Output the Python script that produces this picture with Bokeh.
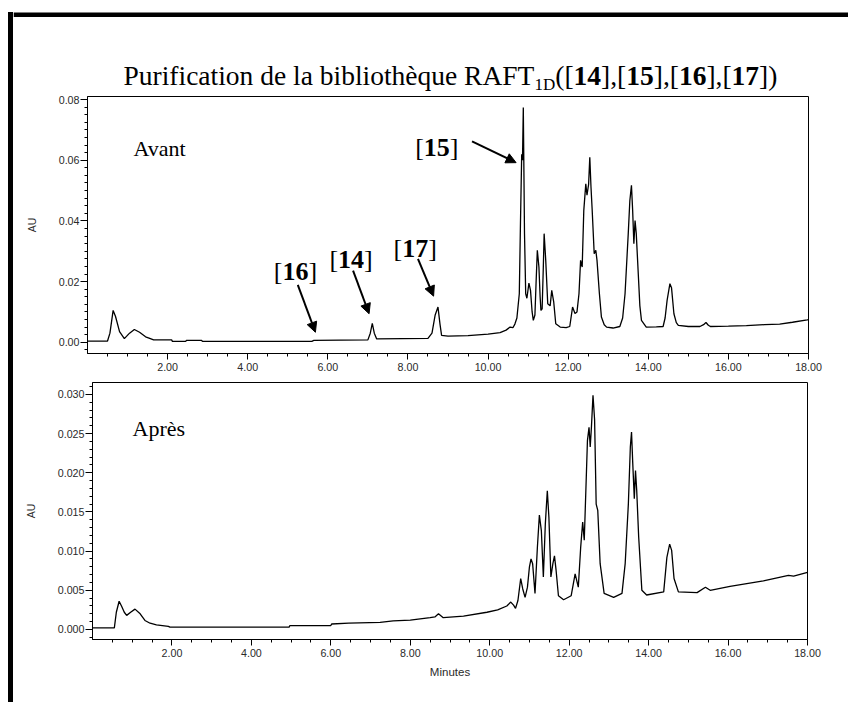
from bokeh.plotting import figure
from bokeh.layouts import column, row
from bokeh.models import (Range1d, FixedTicker, Label, Arrow, NormalHead, Div,
                          NumeralTickFormatter)
from bokeh.embed import file_html
from bokeh.resources import INLINE

# ---------------- data ----------------
avant_t = [0.00, 0.50, 0.56, 0.64, 0.70, 0.80, 0.92, 1.05, 1.17, 1.30, 1.45, 1.57, 1.65,
           2.10, 2.12, 2.45, 2.47, 2.85, 2.87, 5.60, 5.65, 7.00, 7.06, 7.11, 7.16, 7.22,
           8.50, 8.60, 8.68, 8.75, 8.80, 8.84, 9.00, 9.50, 10.00, 10.30, 10.45, 10.55,
           10.62, 10.67, 10.72, 10.78, 10.81, 10.84, 10.86, 10.88, 10.91, 10.94, 10.97,
           11.02, 11.06, 11.10, 11.13, 11.17, 11.20, 11.23, 11.27, 11.30, 11.32, 11.35,
           11.38, 11.40, 11.44, 11.49, 11.55, 11.59, 11.64, 11.69, 11.80, 11.95, 12.04,
           12.11, 12.17, 12.22, 12.27, 12.31, 12.35, 12.39, 12.44, 12.47, 12.51, 12.54,
           12.57, 12.60, 12.65, 12.69, 12.72, 12.78, 12.83, 12.90, 12.96, 13.12, 13.29,
           13.36, 13.42, 13.50, 13.54, 13.58, 13.61, 13.64, 13.67, 13.70, 13.75, 13.79,
           13.83, 13.95, 14.20, 14.37, 14.42, 14.47, 14.54, 14.58, 14.64, 14.70, 14.75,
           15.00, 15.29, 15.38, 15.44, 15.50, 15.55, 16.00, 16.45, 16.90, 17.28, 17.60,
           17.97, 18.00]
avant_au = [0.0004, 0.0004, 0.0030, 0.0105, 0.0085, 0.0035, 0.0012, 0.0030, 0.0042, 0.0033,
            0.0018, 0.0012, 0.0008, 0.0008, 0.0003, 0.0003, 0.0006, 0.0006, 0.0003, 0.0003,
            0.0006, 0.0008, 0.0030, 0.0062, 0.0030, 0.0011, 0.0013, 0.0030, 0.0090, 0.0116,
            0.0060, 0.0023, 0.0020, 0.0022, 0.0027, 0.0032, 0.0040, 0.0050, 0.0048, 0.0060,
            0.0080, 0.0160, 0.0400, 0.0620, 0.0600, 0.0774, 0.0358, 0.0160, 0.0145, 0.0195,
            0.0171, 0.0100, 0.0072, 0.0090, 0.0200, 0.0303, 0.0248, 0.0150, 0.0105, 0.0110,
            0.0250, 0.0358, 0.0270, 0.0127, 0.0120, 0.0171, 0.0132, 0.0061, 0.0050, 0.0048,
            0.0052, 0.0116, 0.0095, 0.0100, 0.0160, 0.0270, 0.0248, 0.0434, 0.0522, 0.0485,
            0.0520, 0.0610, 0.0511, 0.0434, 0.0292, 0.0303, 0.0270, 0.0160, 0.0083, 0.0058,
            0.0050, 0.0047, 0.0052, 0.0080, 0.0160, 0.0358, 0.0467, 0.0517, 0.0434, 0.0325,
            0.0401, 0.0358, 0.0226, 0.0120, 0.0072, 0.0050, 0.0051, 0.0052, 0.0080, 0.0138,
            0.0193, 0.0180, 0.0094, 0.0065, 0.0056, 0.0052, 0.0052, 0.0058, 0.0065, 0.0056,
            0.0052, 0.0053, 0.0055, 0.0058, 0.0060, 0.0066, 0.0074, 0.0075]

apres_t = [0.00, 0.55, 0.60, 0.67, 0.73, 0.80, 0.86, 0.96, 1.07, 1.20, 1.32, 1.45, 1.61,
           1.91, 1.95, 4.95, 4.97, 6.00, 6.02, 6.45, 7.24, 7.57, 8.00, 8.50, 8.62, 8.71,
           8.83, 9.34, 9.93, 10.20, 10.43, 10.53, 10.60, 10.65, 10.71, 10.78, 10.83, 10.89,
           10.95, 11.00, 11.04, 11.08, 11.14, 11.20, 11.25, 11.30, 11.35, 11.40, 11.45,
           11.49, 11.54, 11.59, 11.63, 11.67, 11.73, 11.86, 12.05, 12.15, 12.23, 12.29,
           12.34, 12.38, 12.42, 12.46, 12.50, 12.53, 12.56, 12.60, 12.64, 12.68, 12.72,
           12.78, 12.88, 13.12, 13.33, 13.41, 13.49, 13.54, 13.57, 13.60, 13.64, 13.67,
           13.70, 13.75, 13.83, 13.95, 14.38, 14.46, 14.53, 14.58, 14.64, 14.75, 15.22,
           15.43, 15.55, 16.05, 16.89, 17.52, 17.65, 18.00]
apres_au = [0.0002, 0.0002, 0.0022, 0.0036, 0.0030, 0.0022, 0.0018, 0.0022, 0.0026, 0.0020,
            0.00115, 0.0008, 0.0006, 0.0004, 0.0003, 0.0003, 0.0005, 0.0005, 0.0007, 0.0008,
            0.0009, 0.0011, 0.0012, 0.0015, 0.0016, 0.0020, 0.0015, 0.0017, 0.0022, 0.0025,
            0.0030, 0.0035, 0.0031, 0.0027, 0.0037, 0.0065, 0.0052, 0.0041, 0.0054, 0.0080,
            0.0090, 0.0084, 0.0046, 0.0105, 0.0146, 0.0126, 0.0067, 0.0135, 0.0177, 0.0143,
            0.0067, 0.0084, 0.0094, 0.0076, 0.0043, 0.0038, 0.0043, 0.0071, 0.0054, 0.0105,
            0.0137, 0.0114, 0.0177, 0.0241, 0.0258, 0.0233, 0.0258, 0.0299, 0.0268, 0.0160,
            0.0152, 0.0084, 0.0046, 0.0041, 0.0046, 0.0084, 0.0160, 0.0233, 0.0252, 0.0213,
            0.0167, 0.0203, 0.0178, 0.0118, 0.0050, 0.0044, 0.0048, 0.0092, 0.0109, 0.0101,
            0.0065, 0.0048, 0.0047, 0.0054, 0.0050, 0.0055, 0.0062, 0.0069, 0.0068, 0.0073]

x_ticks = [2, 4, 6, 8, 10, 12, 14, 16, 18]
x_minor = [i * 0.5 for i in range(1, 37)]
top_y_ticks = [0.0, 0.02, 0.04, 0.06, 0.08]
top_y_minor = [i * 0.0025 for i in range(-1, 33)]
bot_y_ticks = [0.0, 0.005, 0.010, 0.015, 0.020, 0.025, 0.030]
bot_y_minor = [i * 0.001 for i in range(-1, 32)]

title_parts = [("Purification de la bibliothèque RAFT", "normal", "main"),
               ("1D", "normal", "sub"),
               ("([", "normal", "main"), ("14", "bold", "main"),
               ("],[", "normal", "main"), ("15", "bold", "main"),
               ("],[", "normal", "main"), ("16", "bold", "main"),
               ("],[", "normal", "main"), ("17", "bold", "main"),
               ("])", "normal", "main")]

# ---------------- styling helpers ----------------
SERIF = "Liberation Serif"
SANS = "Liberation Sans"
W = {'P': 556, 'u': 500, 'r': 333, 'i': 278, 'f': 333, 'c': 444, 'a': 444, 't': 278,
     'o': 500, 'n': 500, ' ': 250, 'd': 500, 'e': 444, 'l': 278, 'b': 500, 'h': 500,
     'è': 444, 'q': 500, 'R': 667, 'A': 722, 'F': 556, 'T': 611, '(': 333, ')': 333,
     '[': 333, ']': 333, ',': 250, 'D': 722}


def tw(s, size):
    return sum(W.get(c, 500) for c in s) / 1000.0 * size


def style_axes(p, yfmt):
    p.grid.visible = False
    p.outline_line_color = "black"
    p.outline_line_width = 1
    p.background_fill_color = "white"
    p.border_fill_color = "white"
    for ax in (p.xaxis[0], p.yaxis[0]):
        ax.axis_line_color = "black"
        ax.major_tick_line_color = "black"
        ax.minor_tick_line_color = "black"
        ax.major_tick_in = 0
        ax.minor_tick_in = 0
        ax.major_label_text_font = SANS
        ax.major_label_text_font_size = "10.7px"
        ax.major_label_text_color = "#2a2a2a"
        ax.axis_label_text_font = SANS
        ax.axis_label_text_font_style = "normal"
        ax.axis_label_text_color = "#2a2a2a"
    p.xaxis.ticker = FixedTicker(ticks=x_ticks, minor_ticks=x_minor)
    p.xaxis.formatter = NumeralTickFormatter(format="0.00")
    p.xaxis.major_tick_out = 6
    p.xaxis.minor_tick_out = 3
    p.xaxis.major_label_standoff = 3
    p.yaxis.major_tick_out = 7
    p.yaxis.minor_tick_out = 3
    p.yaxis.major_label_standoff = 1
    p.yaxis.formatter = NumeralTickFormatter(format=yfmt)
    p.yaxis.axis_label = "AU"
    p.yaxis.axis_label_text_font_size = "10.5px"
    p.yaxis.axis_label_standoff = 18


def txt_label(p, x, y, text, size, style="normal", dx=0.0):
    p.add_layout(Label(x=x, y=y, x_offset=dx, text=text,
                       text_font=SERIF, text_font_style=style,
                       text_font_size=f"{size}px", text_color="black",
                       text_baseline="alphabetic", text_align="left"))


def bracket_label(p, x, y, num, size):
    s = float(size)
    txt_label(p, x, y, "[", s)
    txt_label(p, x, y, num, s, "bold", 0.333 * s)
    txt_label(p, x, y, "]", s, "normal", 1.333 * s)


def arrow(p, x0, y0, x1, y1):
    p.add_layout(Arrow(end=NormalHead(size=10, fill_color="black", line_color="black"),
                       x_start=x0, y_start=y0, x_end=x1, y_end=y1,
                       line_width=2, line_color="black"))


# ---------------- title strip (pixel coordinates) ----------------
TW, TH = 835, 85
pT = figure(width=TW, height=TH, x_range=Range1d(0, TW), y_range=Range1d(0, TH),
            output_backend="svg", toolbar_location=None,
            x_axis_location=None, y_axis_location=None, frame_align=False,
            min_border_left=0, min_border_right=0, min_border_top=0, min_border_bottom=0)
pT.grid.visible = False
pT.outline_line_color = None
pT.background_fill_color = "white"
pT.border_fill_color = "white"
# thick black rule at the top of the page
pT.quad(left=[0], right=[TW], bottom=[TH - 8.5], top=[TH - 4], fill_color="black",
        line_color=None)

MAIN, SUB = 27.5, 17.0
xo = 110.0
for txt, st, kind in title_parts:
    size = MAIN if kind == "main" else SUB
    txt_label(pT, xo, TH - 67 if kind == "main" else TH - 76, txt, size, st)
    xo += tw(txt, size)

# ---------------- top figure (Avant) ----------------
pA = figure(width=827, height=285, x_range=Range1d(0, 18), y_range=Range1d(-0.0037, 0.081),
            output_backend="svg", toolbar_location=None, frame_align=False,
            min_border_left=74, min_border_right=32, min_border_top=3, min_border_bottom=25)
style_axes(pA, "0.00")
pA.yaxis.ticker = FixedTicker(ticks=top_y_ticks, minor_ticks=top_y_minor)
pA.line(avant_t, avant_au, line_color="black", line_width=1.3)

txt_label(pA, 1.147, 0.0638, "Avant", 22)
bracket_label(pA, 8.18, 0.0641, "15", 26)
bracket_label(pA, 4.65, 0.0233, "16", 26)
bracket_label(pA, 6.04, 0.0273, "14", 26)
bracket_label(pA, 7.64, 0.0308, "17", 26)
arrow(pA, 9.60, 0.0662, 10.70, 0.0592)
arrow(pA, 8.25, 0.0275, 8.64, 0.0152)
arrow(pA, 5.25, 0.0189, 5.69, 0.0033)
arrow(pA, 6.63, 0.0236, 7.03, 0.0094)

# ---------------- bottom figure (Après) ----------------
pB = figure(width=827, height=324, x_range=Range1d(0, 18), y_range=Range1d(-0.00128, 0.03153),
            output_backend="svg", toolbar_location=None, frame_align=False,
            min_border_left=79, min_border_right=33, min_border_top=4, min_border_bottom=63)
style_axes(pB, "0.000")
pB.yaxis.ticker = FixedTicker(ticks=bot_y_ticks, minor_ticks=bot_y_minor)
pB.xaxis.axis_label = "Minutes"
pB.xaxis.axis_label_text_font_size = "11.5px"
pB.xaxis.axis_label_standoff = 6
pB.line(apres_t, apres_au, line_color="black", line_width=1.3)
txt_label(pB, 1.01, 0.02562, "Après", 22)

# thick black rule down the left side of the page
band = Div(width=5, height=690, margin=(4, 0, 0, 0),
           styles={"background-color": "black"})

layout = row(band, column(pT, pA, pB, spacing=0), spacing=0, margin=(8, 0, 0, 8))
open("out.html", "w").write(file_html(layout, INLINE))
